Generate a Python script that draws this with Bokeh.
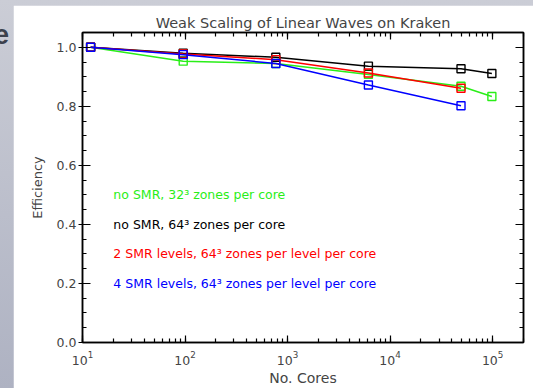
from bokeh.plotting import figure
from bokeh.models import (LogAxis, LinearAxis, Range1d, FixedTicker, Div,
                          PrintfTickFormatter, LogTicker)
from bokeh.layouts import row
from bokeh.core.properties import value
from bokeh.embed import file_html
from bokeh.resources import INLINE

# Cores used in each weak-scaling run
cores_32 = [12, 96, 768, 6144, 49152, 98304]
cores_64 = [12, 96, 768, 6144, 49152, 98304]
cores_smr2 = [12, 96, 768, 6144, 49152]
cores_smr4 = [12, 96, 768, 6144, 49152]

# Parallel efficiency for each configuration
eff_32 = [1.0, 0.953, 0.945, 0.908, 0.868, 0.833]
eff_64 = [1.0, 0.980, 0.966, 0.936, 0.927, 0.911]
eff_smr2 = [1.0, 0.977, 0.958, 0.913, 0.861]
eff_smr4 = [1.0, 0.975, 0.945, 0.872, 0.802]

labels = [
    "no SMR, 32\u00b3 zones per core",
    "no SMR, 64\u00b3 zones per core",
    "2 SMR levels, 64\u00b3 zones per level per core",
    "4 SMR levels, 64\u00b3 zones per level per core",
]
label_y = [0.5, 0.4, 0.3, 0.2]
colors = ["#2aee18", "black", "#ff0000", "#0000ff"]

y_ticks = [0, 0.2, 0.4, 0.6, 0.8, 1.0]
y_minor = [i * 0.05 for i in range(21)]

FONT = "DejaVu Sans"

p = figure(width=520, height=383, output_backend="svg", toolbar_location=None,
           x_axis_type="log", x_range=Range1d(10, 2e5), y_range=Range1d(0, 1.05),
           min_border_left=69, min_border_right=10, min_border_top=27,
           min_border_bottom=46, border_fill_color="white",
           background_fill_color="white", outline_line_color="black",
           outline_line_width=1.5, margin=(0, 0, 0, 0))
p.grid.visible = False

p.title.text = "Weak Scaling of Linear Waves on Kraken"
p.title.align = "center"
p.title.text_font = FONT
p.title.text_font_size = "14.5px"
p.title.text_font_style = "normal"
p.title.standoff = 4

xa = p.xaxis[0]
ya = p.yaxis[0]
for ax in (xa, ya):
    ax.major_label_text_font = FONT
    ax.major_label_text_font_size = "12.5px"
    ax.axis_label_text_font = FONT
    ax.axis_label_text_font_style = "normal"
    ax.axis_line_width = 1.5
    ax.major_tick_line_width = 1.2
    ax.minor_tick_line_width = 1.2

xa.axis_label = "No. Cores"
xa.axis_label_text_font_size = "14px"
xa.ticker = LogTicker(num_minor_ticks=10)
xa.major_tick_in = 7
xa.major_tick_out = 0
xa.minor_tick_in = 4
xa.minor_tick_out = 0
xa.major_label_standoff = 8
xa.axis_label_standoff = 2

ya.axis_label = "Efficiency"
ya.axis_label_text_font_size = "13px"
ya.ticker = FixedTicker(ticks=y_ticks, minor_ticks=y_minor)
ya.formatter = PrintfTickFormatter(format="%.1f")
ya.major_tick_in = 8
ya.major_tick_out = 4
ya.minor_tick_in = 4
ya.minor_tick_out = 0
ya.major_label_standoff = 2
ya.axis_label_standoff = 9

# Mirror axes: ticks only, labels hidden
top = LogAxis(ticker=LogTicker(num_minor_ticks=10), major_tick_in=7, major_tick_out=0,
              minor_tick_in=4, minor_tick_out=0, major_label_text_alpha=0,
              major_label_text_font_size="1px", axis_line_width=1.5,
              major_tick_line_width=1.2, minor_tick_line_width=1.2,
              major_label_standoff=0)
right = LinearAxis(ticker=FixedTicker(ticks=y_ticks, minor_ticks=y_minor),
                   major_tick_in=8, major_tick_out=0, minor_tick_in=4, minor_tick_out=0,
                   major_label_text_alpha=0, major_label_text_font_size="1px",
                   axis_line_width=1.5, major_tick_line_width=1.2,
                   minor_tick_line_width=1.2, major_label_standoff=0)
p.add_layout(top, "above")
p.add_layout(right, "right")

series = [(cores_32, eff_32), (cores_64, eff_64),
          (cores_smr2, eff_smr2), (cores_smr4, eff_smr4)]
for (xs, ys), c in zip(series, colors):
    p.line(xs, ys, line_color=c, line_width=1.5)
    p.scatter(xs, ys, marker="square", size=8, fill_color=None,
              line_color=c, line_width=1.4)

for t, yv, c in zip(labels, label_y, colors):
    p.text(x=[20], y=[yv], text=[t], text_color=c, text_font=value(FONT),
           text_font_size="12.5px", text_baseline="alphabetic", text_align="left")

edge = Div(text='<div style="font: bold 27px \'Liberation Sans\'; color:#3c414c; '
                'position:relative; left:-6px; top:17px; line-height:27px;">e</div>',
           width=13, height=383,
           styles={"overflow": "hidden"}, margin=(0, 0, 0, 0))

page = row(edge, p, width=533, height=388, margin=(0, 0, 0, 0),
           styles={"background": "linear-gradient(180deg, #cbcdd6 0%, #aeb2c2 100%)",
                   "padding-top": "5px"})

open("out.html", "w").write(file_html(page, INLINE))
